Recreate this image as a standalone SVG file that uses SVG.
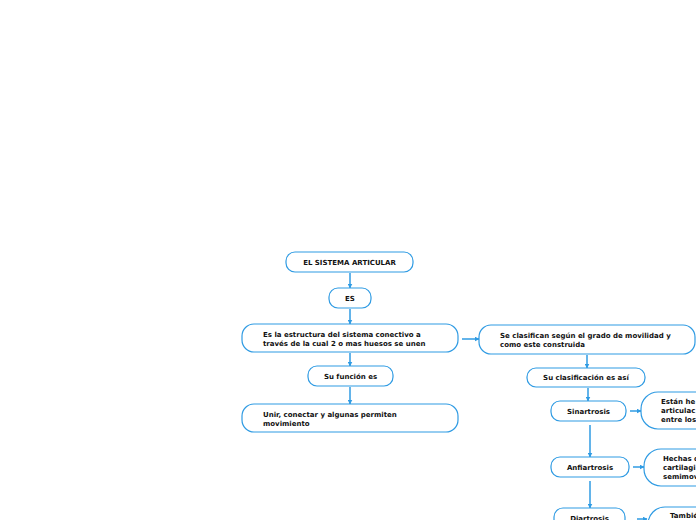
<svg xmlns="http://www.w3.org/2000/svg" width="696" height="520" viewBox="0 0 696 520">
<defs>
<style>
.n{fill:#fff;stroke:#2f9be3;stroke-width:1.2}
.t{font-family:"DejaVu Sans",Verdana,sans-serif;font-weight:bold;font-size:7px;fill:#111}
.c{stroke:#2f9be3;stroke-width:1.5;fill:none;marker-end:url(#a)}
</style>
<marker id="a" viewBox="0 0 10 10" refX="9" refY="5" markerWidth="5" markerHeight="5" orient="auto" markerUnits="userSpaceOnUse">
<path d="M0,0 L10,5 L0,10 z" fill="#2f9be3"/>
</marker>
</defs>
<rect width="696" height="520" fill="#fff"/>
<g id="connectors">
<line class="c" x1="350" y1="273" x2="350" y2="288"/>
<line class="c" x1="350" y1="309" x2="350" y2="324"/>
<line class="c" x1="350" y1="353" x2="350" y2="366"/>
<line class="c" x1="350" y1="387" x2="350" y2="404"/>
<line class="c" x1="462" y1="339" x2="479" y2="339"/>
<line class="c" x1="587" y1="355" x2="587" y2="368"/>
<line class="c" x1="588" y1="388" x2="588" y2="401"/>
<line class="c" x1="630" y1="411" x2="641" y2="411"/>
<line class="c" x1="590" y1="425" x2="590" y2="457"/>
<line class="c" x1="633" y1="467" x2="644" y2="467"/>
<line class="c" x1="590" y1="481" x2="590" y2="508"/>
<line class="c" x1="637" y1="519" x2="647" y2="519"/>
</g>
<g id="n1"><rect class="n" x="286" y="252" width="127" height="20" rx="9"/><text class="t" x="349.5" y="264.5" text-anchor="middle">EL SISTEMA ARTICULAR</text></g>
<g id="n2"><rect class="n" x="329" y="288" width="42" height="20" rx="9"/><text class="t" x="350" y="300.5" text-anchor="middle">ES</text></g>
<g id="n3"><rect class="n" x="242" y="324" width="216" height="28" rx="12"/><text class="t" x="263" y="336.5">Es la estructura del sistema conectivo a</text><text class="t" x="263" y="345.5">través de la cual 2 o mas huesos se unen</text></g>
<g id="n4"><rect class="n" x="308" y="366" width="85" height="20" rx="9"/><text class="t" x="350.5" y="378.5" text-anchor="middle">Su función es</text></g>
<g id="n5"><rect class="n" x="242" y="404" width="216" height="28" rx="12"/><text class="t" x="263" y="416.5">Unir, conectar y algunas permiten</text><text class="t" x="263" y="425.5">movimiento</text></g>
<g id="n6"><rect class="n" x="479" y="325" width="216" height="29" rx="12"/><text class="t" x="500" y="337.5">Se clasifican según el grado de movilidad y</text><text class="t" x="500" y="346.5">como este construida</text></g>
<g id="n7"><rect class="n" x="527" y="368" width="118" height="19" rx="9"/><text class="t" x="586" y="380" text-anchor="middle">Su clasificación es así</text></g>
<g id="n8"><rect class="n" x="551" y="401" width="75" height="20" rx="9"/><text class="t" x="588.5" y="413.5" text-anchor="middle">Sinartrosis</text></g>
<g id="n9"><rect class="n" x="641" y="392" width="80" height="37" rx="17"/><text class="t" x="661" y="404">Están he</text><text class="t" x="661" y="413">articulac</text><text class="t" x="661" y="422">entre los</text></g>
<g id="n10"><rect class="n" x="551" y="457" width="78" height="20" rx="9"/><text class="t" x="590" y="469.5" text-anchor="middle">Anfiartrosis</text></g>
<g id="n11"><rect class="n" x="644" y="449" width="80" height="37" rx="17"/><text class="t" x="663" y="461">Hechas d</text><text class="t" x="663" y="470">cartilagi</text><text class="t" x="663" y="479">semimov</text></g>
<g id="n12"><rect class="n" x="554" y="508" width="71" height="22" rx="9"/><text class="t" x="589.5" y="520.5" text-anchor="middle">Diartrosis</text></g>
<g id="n13"><rect class="n" x="648" y="507" width="80" height="37" rx="17"/><text class="t" x="670" y="518">Tambié</text></g>
</svg>
